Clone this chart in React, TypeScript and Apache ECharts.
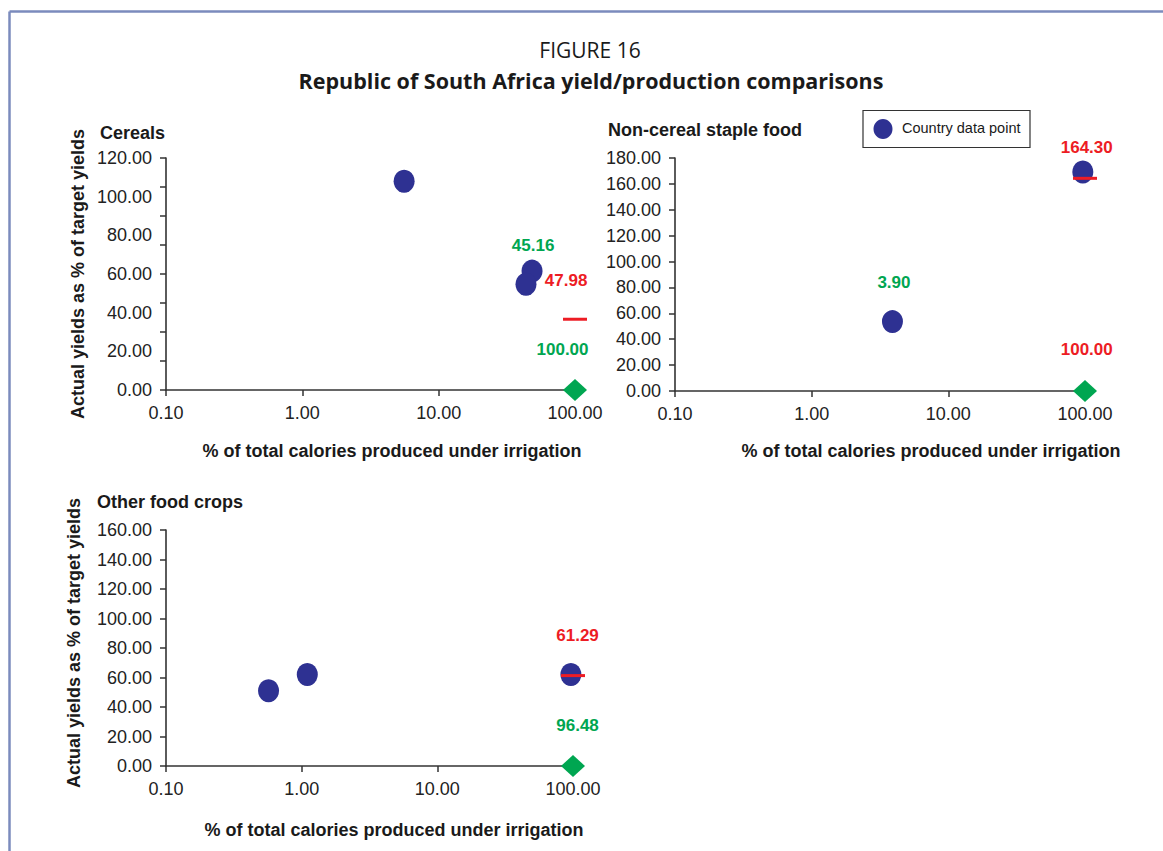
import React, { useEffect, useRef } from "react";
import * as echarts from "echarts";

// ---------- data ----------
const subplotTitles = ["Cereals", "Non-cereal staple food", "Other food crops"];
const xTitle = "% of total calories produced under irrigation";
const yTitle = "Actual yields as % of target yields";
const legendLabel = "Country data point";

// country data points [x: % irrigated calories, y: actual yield % of target]
const cerealsPoints = [[5.58, 108.0], [48.4, 61.5], [43.7, 54.7]];
const nonCerealPoints = [[3.9, 53.6], [96.4, 169.2]];
const otherPoints = [[0.57, 51.0], [1.1, 62.0], [96.48, 62.0]];

// red target dashes
const cerealsTarget = [[100, 36.6]];
const nonCerealTarget = [[100, 164.3]];
const otherTarget = [[100, 61.29]];

// green diamonds
const cerealsDiamond = [[100, 0]];
const nonCerealDiamond = [[100, 0]];
const otherDiamond = [[100, 0]];

// value labels [x, y, text, colour key]
const cerealsLabels = [[49.3, 74.7, "45.16", "g"], [86, 56.8, "47.98", "r"], [81, 20.9, "100.00", "g"]];
const nonCerealLabels = [[103, 188.2, "164.30", "r"], [4.0, 83.8, "3.90", "g"], [103, 31.8, "100.00", "r"]];
const otherLabels = [[108, 88.8, "61.29", "r"], [108, 27.3, "96.48", "g"]];

// axes
const xMin = 0.1;
const xMax = 100;
const yMaxes = [120, 180, 160];
const yLabelStep = 20;
const cerealsTickStep = 15;

const NARROW = "'Liberation Sans Narrow', 'Arial Narrow', 'Liberation Sans', Arial, sans-serif";
const TITLEFONT = "'Open Sans', 'Noto Sans', sans-serif";
const BLUE = "#2e3192";
const RED = "#ed1c24";
const GREEN = "#00a651";
const AXIS = "#333333";

const grids = [
  { left: 166, top: 158, width: 409, height: 232 },
  { left: 675, top: 158, width: 410, height: 233 },
  { left: 166, top: 530, width: 407, height: 236 },
];

export default function App() {
  const ref = useRef<HTMLDivElement>(null);

  useEffect(() => {
    document.body.style.margin = "0";
    const chart = echarts.init(ref.current!, null, { renderer: "svg" });

    const xAxes: any[] = grids.map((_, i) => ({
      type: "log",
      logBase: 10,
      gridIndex: i,
      position: "bottom",
      min: xMin,
      max: xMax,
      axisLine: { show: true, onZero: false, lineStyle: { color: AXIS, width: 1.6 } },
      axisTick: { show: true, inside: false, length: 6, lineStyle: { color: AXIS, width: 1.5 } },
      minorTick: { show: false },
      splitLine: { show: false },
      axisLabel: {
        color: "#222",
        fontFamily: NARROW,
        fontSize: 18,
        margin: 14,
        formatter: (v: number) => Number(v).toFixed(2),
      },
    }));

    const yAxisBase = (gi: number, max: number, interval: number, showLabel: boolean, showLine: boolean) => ({
      type: "value",
      gridIndex: gi,
      position: "left",
      offset: 0,
      min: 0,
      max,
      interval,
      axisLine: { show: showLine, onZero: false, lineStyle: { color: AXIS, width: 1.6 } },
      axisTick: { show: showLine, inside: false, length: 6, lineStyle: { color: AXIS, width: 1.5 } },
      splitLine: { show: false },
      axisLabel: {
        show: showLabel,
        color: "#222",
        fontFamily: NARROW,
        fontSize: 18,
        margin: 14,
        formatter: (v: number) => Number(v).toFixed(2),
      },
    });

    const yAxes: any[] = [
      yAxisBase(0, yMaxes[0], cerealsTickStep, false, true),
      yAxisBase(1, yMaxes[1], yLabelStep, true, true),
      yAxisBase(2, yMaxes[2], yLabelStep, true, true),
      yAxisBase(0, yMaxes[0], yLabelStep, true, false),
    ];

    const pointSeries = (idx: number, data: number[][]) => ({
      type: "scatter",
      xAxisIndex: idx,
      yAxisIndex: idx,
      symbol: "circle",
      symbolSize: [21, 23],
      itemStyle: { color: BLUE, opacity: 1 },
      data,
      z: 3,
      clip: false,
    });
    const dashSeries = (idx: number, data: number[][]) => ({
      type: "scatter",
      xAxisIndex: idx,
      yAxisIndex: idx,
      symbol: "rect",
      symbolSize: [24, 3],
      itemStyle: { color: RED, opacity: 1 },
      data,
      z: 4,
      clip: false,
    });
    const diamondSeries = (idx: number, data: number[][]) => ({
      type: "scatter",
      xAxisIndex: idx,
      yAxisIndex: idx,
      symbol: "diamond",
      symbolSize: [24, 22],
      itemStyle: { color: GREEN, opacity: 1 },
      data,
      z: 4,
      clip: false,
    });
    const labelSeries = (idx: number, data: any[][]) => ({
      type: "scatter",
      xAxisIndex: idx,
      yAxisIndex: idx,
      symbolSize: 0,
      silent: true,
      clip: false,
      z: 5,
      itemStyle: { opacity: 1, color: "transparent" },
      data: data.map((d) => ({
        value: [d[0], d[1]],
        label: {
          show: true,
          position: "inside",
          formatter: d[2],
          color: d[3] === "r" ? RED : GREEN,
          opacity: 1,
          fontFamily: NARROW,
          fontWeight: "bold",
          fontSize: 17,
        },
      })),
    });

    const textStyle = (size: number, weight: string, family: string) => ({
      fontSize: size,
      fontWeight: weight,
      fontFamily: family,
      fill: "#1a1a1a",
    });
    const centered = { textAlign: "center", textVerticalAlign: "middle" };
    const lefted = { textAlign: "left", textVerticalAlign: "middle" };

    const graphic: any[] = [
      { type: "line", shape: { x1: 9.5, y1: 11.5, x2: 1163, y2: 11.5 }, style: { stroke: "#7b8bbd", lineWidth: 2.5 } },
      { type: "line", shape: { x1: 9.5, y1: 11.5, x2: 9.5, y2: 851 }, style: { stroke: "#7b8bbd", lineWidth: 2.5 } },
      { type: "text", x: 590, y: 50, style: { text: "FIGURE 16", ...textStyle(21, "normal", TITLEFONT), ...centered } },
      { type: "text", x: 591, y: 80, style: { text: "Republic of South Africa yield/production comparisons", ...textStyle(21.5, "bold", TITLEFONT), ...centered } },
      { type: "text", x: 100, y: 133, style: { text: subplotTitles[0], ...textStyle(18, "bold", NARROW), ...lefted } },
      { type: "text", x: 608, y: 130, style: { text: subplotTitles[1], ...textStyle(18, "bold", NARROW), ...lefted } },
      { type: "text", x: 97, y: 502, style: { text: subplotTitles[2], ...textStyle(18, "bold", NARROW), ...lefted } },
      { type: "text", x: 392, y: 451, style: { text: xTitle, ...textStyle(18, "bold", NARROW), ...centered } },
      { type: "text", x: 931, y: 451, style: { text: xTitle, ...textStyle(18, "bold", NARROW), ...centered } },
      { type: "text", x: 394, y: 830, style: { text: xTitle, ...textStyle(18, "bold", NARROW), ...centered } },
      { type: "text", x: 78, y: 274, rotation: Math.PI / 2, style: { text: yTitle, ...textStyle(18, "bold", NARROW), ...centered } },
      { type: "text", x: 74, y: 643, rotation: Math.PI / 2, style: { text: yTitle, ...textStyle(18, "bold", NARROW), ...centered } },
      // legend
      { type: "rect", shape: { x: 863, y: 110.5, width: 167, height: 37 }, style: { fill: "#fff", stroke: "#333", lineWidth: 1.2 } },
      { type: "ellipse", shape: { cx: 883, cy: 129, rx: 9.5, ry: 10 }, style: { fill: BLUE } },
      { type: "text", x: 902, y: 128, style: { text: legendLabel, fontSize: 14.5, fontFamily: NARROW, fill: "#1a1a1a", ...lefted } },
    ];

    chart.setOption({
      animation: false,
      backgroundColor: "#fff",
      grid: grids.map((g) => ({ ...g, containLabel: false })),
      xAxis: xAxes,
      yAxis: yAxes,
      series: [
        pointSeries(0, cerealsPoints),
        dashSeries(0, cerealsTarget),
        diamondSeries(0, cerealsDiamond),
        labelSeries(0, cerealsLabels),
        pointSeries(1, nonCerealPoints),
        dashSeries(1, nonCerealTarget),
        diamondSeries(1, nonCerealDiamond),
        labelSeries(1, nonCerealLabels),
        pointSeries(2, otherPoints),
        dashSeries(2, otherTarget),
        diamondSeries(2, otherDiamond),
        labelSeries(2, otherLabels),
      ],
      graphic,
    });

    return () => chart.dispose();
  }, []);

  return <div ref={ref} style={{ width: 1163, height: 851 }} />;
}
